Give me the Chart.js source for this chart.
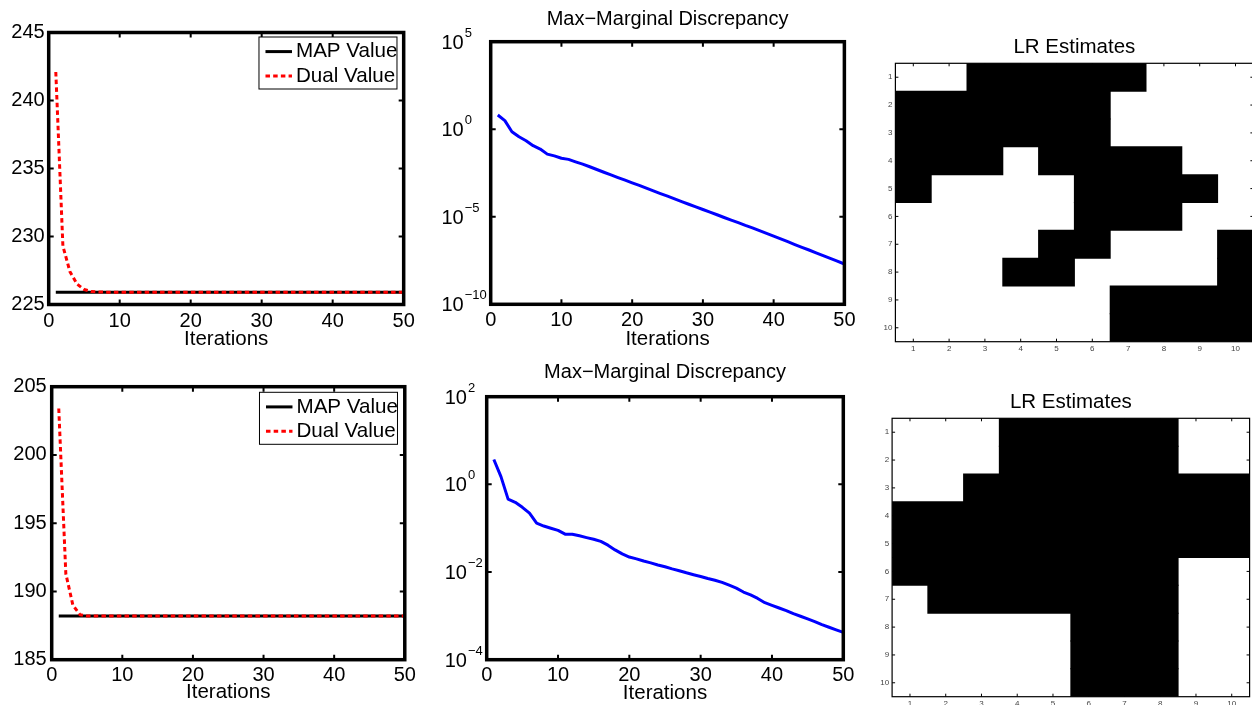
<!DOCTYPE html>
<html><head><meta charset="utf-8">
<script src="https://cdn.jsdelivr.net/npm/chart.js@4.4.1/dist/chart.umd.min.js"></script>
<style>
html,body{margin:0;padding:0;background:#fff;overflow:hidden;width:1252px;height:705px;position:relative;}
canvas{position:absolute;}
</style></head><body>
<canvas id="cA" width="420" height="350" style="left:0px;top:0px"></canvas>
<canvas id="cB" width="420" height="355" style="left:0px;top:350px"></canvas>
<canvas id="cC" width="440" height="350" style="left:420px;top:0px"></canvas>
<canvas id="cD" width="440" height="355" style="left:420px;top:350px"></canvas>
<canvas id="cE" width="420" height="355" style="left:860px;top:0px"></canvas>
<canvas id="cF" width="420" height="355" style="left:860px;top:350px"></canvas>
<script>
// ---------------- DATA ----------------
const iterations = [1,2,3,4,5,6,7,8,9,10,11,12,13,14,15,16,17,18,19,20,21,22,23,24,25,26,27,28,29,30,31,32,33,34,35,36,37,38,39,40,41,42,43,44,45,46,47,48,49,50];
const xTickValues = [0,10,20,30,40,50];

// top row
const mapTopX = [1, 50];
const mapTopY = [225.9, 225.9];
const dualTop = [242.1,229.3,227.4,226.5,226.1,225.95,225.92,225.91,225.9,225.9,225.9,225.9,225.9,225.9,225.9,225.9,225.9,225.9,225.9,225.9,225.9,225.9,225.9,225.9,225.9,225.9,225.9,225.9,225.9,225.9,225.9,225.9,225.9,225.9,225.9,225.9,225.9,225.9,225.9,225.9,225.9,225.9,225.9,225.9,225.9,225.9,225.9,225.9,225.9,225.9];
const yTicksTopLeft = [225,230,235,240,245];
const mmdTop = [6.5,3.1,0.72,0.37,0.22,0.115,0.074,0.038,0.030,0.022,0.019,0.0138,0.0102,7.2e-3,5.0e-3,3.5e-3,2.5e-3,1.74e-3,1.23e-3,8.7e-4,6.2e-4,4.3e-4,3.0e-4,2.1e-4,1.5e-4,1.05e-4,7.4e-5,5.2e-5,3.7e-5,2.6e-5,1.86e-5,1.3e-5,9.1e-6,6.5e-6,4.6e-6,3.2e-6,2.3e-6,1.6e-6,1.12e-6,7.9e-7,5.5e-7,3.8e-7,2.6e-7,1.8e-7,1.26e-7,8.7e-8,6.0e-8,4.2e-8,2.9e-8,2.0e-8];
const yTicksTopMid = [1e-10,1e-5,1,1e5];
const gridTop = [
  [0,0,1,1,1,1,1,0,0,0],
  [1,1,1,1,1,1,0,0,0,0],
  [1,1,1,1,1,1,0,0,0,0],
  [1,1,1,0,1,1,1,1,0,0],
  [1,0,0,0,0,1,1,1,1,0],
  [0,0,0,0,0,1,1,1,0,0],
  [0,0,0,0,1,1,0,0,0,1],
  [0,0,0,1,1,0,0,0,0,1],
  [0,0,0,0,0,0,1,1,1,1],
  [0,0,0,0,0,0,1,1,1,1]
];

// bottom row
const mapBotX = [1, 50];
const mapBotY = [188.2, 188.2];
const dualBot = [203.4,191.3,189.0,188.3,188.2,188.2,188.2,188.2,188.2,188.2,188.2,188.2,188.2,188.2,188.2,188.2,188.2,188.2,188.2,188.2,188.2,188.2,188.2,188.2,188.2,188.2,188.2,188.2,188.2,188.2,188.2,188.2,188.2,188.2,188.2,188.2,188.2,188.2,188.2,188.2,188.2,188.2,188.2,188.2,188.2,188.2,188.2,188.2,188.2,188.2];
const yTicksBotLeft = [185,190,195,200,205];
const mmdBot = [3.7,1.5,0.46,0.39,0.30,0.22,0.13,0.112,0.10,0.089,0.073,0.073,0.067,0.061,0.056,0.050,0.041,0.032,0.026,0.022,0.020,0.0178,0.0162,0.0145,0.0132,0.0118,0.0107,0.0096,0.0087,0.0079,0.0071,0.0065,0.0058,0.0050,0.0043,0.0035,0.0030,0.0025,0.0020,0.00174,0.00151,0.00132,0.00112,0.00098,0.00085,0.00074,0.00063,0.00055,0.00048,0.00042];
const yTicksBotMid = [1e-4,1e-2,1,1e2];
const gridBot = [
  [0,0,0,1,1,1,1,1,0,0],
  [0,0,0,1,1,1,1,1,0,0],
  [0,0,1,1,1,1,1,1,1,1],
  [1,1,1,1,1,1,1,1,1,1],
  [1,1,1,1,1,1,1,1,1,1],
  [1,1,1,1,1,1,1,1,0,0],
  [0,1,1,1,1,1,1,1,0,0],
  [0,0,0,0,0,1,1,1,0,0],
  [0,0,0,0,0,1,1,1,0,0],
  [0,0,0,0,0,1,1,1,0,0]
];
const rowLabels = ['1','2','3','4','5','6','7','8','9','10'];
const colTickValues = [1,2,3,4,5,6,7,8,9,10];

const seriesNames = ['MAP Value', 'Dual Value'];
const titleMMD = 'Max\u2212Marginal Discrepancy';
const titleLR = 'LR Estimates';
const xTitle = 'Iterations';

// ---------------- STYLE / PLUGINS ----------------
const FONT = "'Liberation Sans', Arial, Helvetica, sans-serif";
Chart.defaults.font.family = FONT;
Chart.defaults.color = '#000';

const matlabAxes = {
  id: 'matlabAxes',
  afterDatasetsDraw(chart, args, o) {
    if (!o || !o.frameWidth) return;
    const {ctx, chartArea: a} = chart;
    const xs = chart.scales.x, ys = chart.scales.y;
    ctx.save();
    ctx.strokeStyle = '#000';
    ctx.lineWidth = o.tickWidth;
    ctx.beginPath();
    xs.ticks.forEach((t, i) => {
      const p = xs.getPixelForTick(i);
      ctx.moveTo(p, a.bottom); ctx.lineTo(p, a.bottom - o.tickLen);
      ctx.moveTo(p, a.top); ctx.lineTo(p, a.top + o.tickLen);
    });
    ys.ticks.forEach((t, i) => {
      const p = ys.getPixelForTick(i);
      ctx.moveTo(a.left, p); ctx.lineTo(a.left + o.tickLen, p);
      ctx.moveTo(a.right, p); ctx.lineTo(a.right - o.tickLen, p);
    });
    ctx.stroke();
    ctx.lineWidth = o.frameWidth;
    ctx.strokeRect(a.left, a.top, a.right - a.left, a.bottom - a.top);
    ctx.restore();
  }
};

const powerLabels = {
  id: 'powerLabels',
  afterDraw(chart, args, o) {
    if (!o || !o.baseSize) return;
    const ys = chart.scales.y, a = chart.chartArea, ctx = chart.ctx;
    const expText = v => { const e = Math.round(Math.log10(v)); return e < 0 ? '\u2212' + (-e) : String(e); };
    ctx.save();
    ctx.font = o.expSize + 'px ' + FONT;
    const maxW = Math.max(...ys.ticks.map(t => ctx.measureText(expText(t.value)).width));
    const baseRight = a.left - o.pad - maxW - o.gap;
    ctx.fillStyle = '#000';
    ctx.textBaseline = 'middle';
    ys.ticks.forEach((t, i) => {
      const p = ys.getPixelForTick(i) + o.dy;
      ctx.font = o.baseSize + 'px ' + FONT;
      ctx.textAlign = 'right';
      ctx.fillText('10', baseRight, p);
      ctx.font = o.expSize + 'px ' + FONT;
      ctx.textAlign = 'left';
      ctx.fillText(expText(t.value), baseRight + o.gap, p - o.rise);
    });
    ctx.restore();
  }
};

const boxLegend = {
  id: 'boxLegend',
  afterDraw(chart, args, o) {
    if (!o || !o.width) return;
    const a = chart.chartArea, ctx = chart.ctx;
    const bx = a.right - o.right - o.width, by = a.top + o.top;
    ctx.save();
    ctx.fillStyle = '#fff';
    ctx.fillRect(bx, by, o.width, o.height);
    ctx.strokeStyle = '#000';
    ctx.lineWidth = 1;
    ctx.strokeRect(bx, by, o.width, o.height);
    chart.data.datasets.forEach((ds, i) => {
      const y = by + o.rows[i];
      ctx.strokeStyle = ds.borderColor;
      ctx.lineWidth = ds.borderWidth;
      ctx.setLineDash(ds.borderDash || []);
      ctx.beginPath();
      ctx.moveTo(bx + o.sampleX, y);
      ctx.lineTo(bx + o.sampleX + o.sampleLen, y);
      ctx.stroke();
      ctx.setLineDash([]);
      ctx.fillStyle = '#000';
      ctx.font = o.fontSize + 'px ' + FONT;
      ctx.textAlign = 'left';
      ctx.textBaseline = 'middle';
      ctx.fillText(ds.label, bx + o.textX, y);
    });
    ctx.restore();
  }
};

Chart.register(matlabAxes, powerLabels, boxLegend);

function pts(xs, ys) { return xs.map((x, i) => ({x: x, y: ys[i]})); }

function lineChart(id, g, datasets, yScale, extras) {
  return new Chart(document.getElementById(id), {
    type: 'line',
    data: { datasets: datasets },
    options: {
      responsive: false, animation: false, devicePixelRatio: 1, events: [],
      layout: { padding: g.padding },
      elements: { point: { radius: 0 }, line: { tension: 0, borderCapStyle: 'butt', borderJoinStyle: 'round' } },
      plugins: Object.assign({
        legend: { display: false }, tooltip: { enabled: false },
        title: g.title ? { display: true, text: g.title, fullSize: false, color: '#000',
          font: { size: g.titleSize, weight: 'normal', lineHeight: 1 }, padding: { top: g.titlePt, bottom: g.titlePb } } : { display: false },
        matlabAxes: { frameWidth: 3.5, tickWidth: 2, tickLen: 5 }
      }, extras || {}),
      scales: {
        x: {
          type: 'linear', min: 0, max: 50,
          afterBuildTicks: s => { s.ticks = xTickValues.map(v => ({ value: v })); },
          afterFit: s => { s.height = g.xHeight; },
          grid: { display: false, drawTicks: false }, border: { display: false },
          ticks: { padding: g.xTickPad, color: '#000', maxRotation: 0, autoSkip: false, font: { size: 20, lineHeight: 1.2 } },
          title: { display: true, text: xTitle, color: '#000', font: { size: 20.5, lineHeight: 1 }, padding: { top: 0, bottom: g.xTitlePb } }
        },
        y: Object.assign({
          afterFit: s => { s.width = g.yWidth; },
          grid: { display: false, drawTicks: false }, border: { display: false }
        }, yScale)
      }
    }
  });
}

function mapDualSets(mx, my, dual) {
  return [
    { label: seriesNames[0], data: pts(mx, my), borderColor: '#000000', borderWidth: 3, order: 1 },
    { label: seriesNames[1], data: pts(iterations, dual), borderColor: '#ff0000', borderWidth: 3, borderDash: [4.5, 3.2], order: 0 }
  ];
}

const legendOpts = (right, top) => ({ boxLegend: { right: right, top: top, width: 138, height: 52, rows: [14.6, 38.9], sampleX: 6.5, sampleLen: 26.5, textX: 37, fontSize: 20.6 } });

// Panel A: top-left
lineChart('cA',
  { padding: { left: 0, top: 32.5, right: 16.3, bottom: 0 }, yWidth: 48.7, xHeight: 45.5, xTickPad: 5.2, xTitlePb: 0.8 },
  mapDualSets(mapTopX, mapTopY, dualTop),
  { type: 'linear', min: 225, max: 245,
    afterBuildTicks: s => { s.ticks = yTicksTopLeft.map(v => ({ value: v })); },
    ticks: { padding: 4, color: '#000', font: { size: 20, lineHeight: 1.2 } } },
  legendOpts(6.7, 4.5));

// Panel B: bottom-left
lineChart('cB',
  { padding: { left: 0, top: 36.7, right: 12.7, bottom: 0 }, yWidth: 51.7, xHeight: 45.3, xTickPad: 4.1, xTitlePb: 2.3 },
  mapDualSets(mapBotX, mapBotY, dualBot),
  { type: 'linear', min: 185, max: 205,
    afterBuildTicks: s => { s.ticks = yTicksBotLeft.map(v => ({ value: v })); },
    ticks: { padding: 5, color: '#000', font: { size: 20, lineHeight: 1.2 } } },
  legendOpts(7.3, 5.6));

// Panel C: top-middle
lineChart('cC',
  { padding: { left: 0, top: 0, right: 12.3, bottom: 0 }, yWidth: 70.7, xHeight: 45.7, xTickPad: 4.5, xTitlePb: 0.8,
    title: titleMMD, titleSize: 20, titlePt: 9.7, titlePb: 12 },
  [{ label: 'discrepancy', data: pts(iterations, mmdTop), borderColor: '#0000ff', borderWidth: 3 }],
  { type: 'logarithmic', min: 1e-10, max: 1e5,
    afterBuildTicks: s => { s.ticks = yTicksTopMid.map(v => ({ value: v })); },
    ticks: { display: false } },
  { powerLabels: { baseSize: 20, expSize: 13, pad: 4, gap: 1, rise: 10, dy: 1.5 } });

// Panel D: bottom-middle
lineChart('cD',
  { padding: { left: 0, top: 0, right: 16.7, bottom: 0 }, yWidth: 66.7, xHeight: 45.3, xTickPad: 4.1, xTitlePb: 1.1,
    title: titleMMD, titleSize: 20, titlePt: 12.7, titlePb: 14 },
  [{ label: 'discrepancy', data: pts(iterations, mmdBot), borderColor: '#0000ff', borderWidth: 3 }],
  { type: 'logarithmic', min: 1e-4, max: 1e2,
    afterBuildTicks: s => { s.ticks = yTicksBotMid.map(v => ({ value: v })); },
    ticks: { display: false } },
  { powerLabels: { baseSize: 20, expSize: 13, pad: 4, gap: 1, rise: 10, dy: 1.5 } });

// Heatmaps as floating horizontal bars (runs of black cells per row)
function gridDatasets(grid) {
  const sets = [];
  grid.forEach((row, r) => {
    let k = 0, c = 0;
    while (c < row.length) {
      if (row[c] === 1) {
        const s = c;
        while (c < row.length && row[c] === 1) c++;
        if (!sets[k]) sets[k] = { label: 'run' + k, data: grid.map(() => null), backgroundColor: '#000000',
          borderWidth: 0, barPercentage: 1, categoryPercentage: 1, grouped: false, inflateAmount: 0.5 };
        sets[k].data[r] = [colTickValues[s] - 0.5, colTickValues[c - 1] + 0.5];
        k++;
      } else c++;
    }
  });
  return sets;
}

function heatChart(id, g, grid) {
  return new Chart(document.getElementById(id), {
    type: 'bar',
    data: { labels: rowLabels, datasets: gridDatasets(grid) },
    options: {
      indexAxis: 'y',
      responsive: false, animation: false, devicePixelRatio: 1, events: [],
      layout: { padding: g.padding },
      plugins: {
        legend: { display: false }, tooltip: { enabled: false },
        title: { display: true, text: titleLR, fullSize: false, color: '#000',
          font: { size: 20.5, weight: 'normal', lineHeight: 1 }, padding: { top: g.titlePt, bottom: g.titlePb } },
        matlabAxes: { frameWidth: 1.2, tickWidth: 1, tickLen: 3 }
      },
      scales: {
        x: {
          type: 'linear', min: 0.5, max: 10.5,
          afterBuildTicks: s => { s.ticks = colTickValues.map(v => ({ value: v })); },
          afterFit: s => { s.height = g.xHeight; },
          grid: { display: false, drawTicks: false }, border: { display: false },
          ticks: { padding: g.xTickPad, color: '#444', maxRotation: 0, autoSkip: false, font: { size: 8, lineHeight: 1.2 } }
        },
        y: {
          type: 'category',
          afterFit: s => { s.width = g.yWidth; },
          grid: { display: false, drawTicks: false }, border: { display: false },
          ticks: { padding: 3, color: '#444', autoSkip: false, font: { size: 8, lineHeight: 1.2 } }
        }
      }
    }
  });
}

heatChart('cE', { padding: { left: 0, top: 0, right: 26.6, bottom: 0 }, yWidth: 35.4, xHeight: 13.3, xTickPad: 1.8, titlePt: 36.75, titlePb: 6.05 }, gridTop);
heatChart('cF', { padding: { left: 0, top: 0, right: 30.4, bottom: 0 }, yWidth: 32.1, xHeight: 8.3, xTickPad: 1.8, titlePt: 41.95, titlePb: 5.85 }, gridBot);
</script>
</body></html>
